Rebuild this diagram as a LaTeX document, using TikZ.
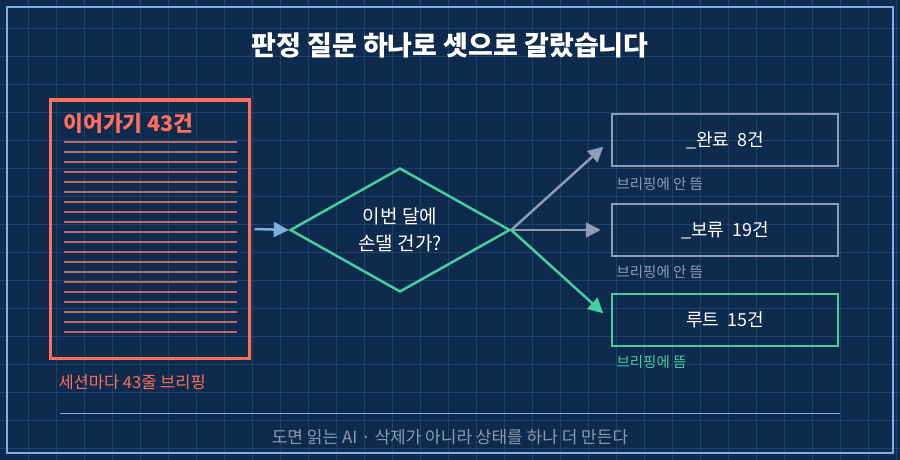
\documentclass[tikz,border=0pt]{standalone}
\usepackage{fontspec}
\setmainfont{Noto Sans CJK KR}
\usetikzlibrary{arrows.meta,positioning,shapes.geometric}
\definecolor{bgblue}{HTML}{0E2A4D}
\definecolor{gridblue}{HTML}{1F416B}
\definecolor{frameblue}{HTML}{7FAEE0}
\definecolor{coral}{HTML}{FF6F5C}
\definecolor{rowline}{HTML}{B86C6A}
\definecolor{mint}{HTML}{45CFA0}
\definecolor{slate}{HTML}{8E9DB5}
\definecolor{footgray}{HTML}{8C9AB0}

\begin{document}
\begin{tikzpicture}[x=1pt,y=-1pt,>={Triangle[length=15pt,width=15pt]},
  outcome/.style={draw,line width=2.5pt,minimum width=226pt,minimum height=52pt,inner sep=0pt,text=white,font=\fontsize{18}{20}\selectfont},
  note/.style={anchor=west,font=\fontsize{14.5}{16}\selectfont},
  branch/.style={->,line width=2.5pt}]
  \fill[bgblue] (0,0) rectangle (900,460);
  \useasboundingbox (0,0) rectangle (900,460);
  \foreach \g in {28,56,...,896} \draw[gridblue,line width=0.8pt] (\g,0) -- (\g,460);
  \foreach \g in {28,56,...,456} \draw[gridblue,line width=0.8pt] (0,\g) -- (900,\g);
  \draw[frameblue,line width=1.5pt] (7,7) rectangle (893,453);
  \node[text=white,font=\fontsize{27}{30}\selectfont\bfseries] (title) at (450,45) {판정 질문 하나로 셋으로 갈랐습니다};
  % the long list
  \node[draw=coral,line width=3pt,minimum width=199pt,minimum height=258pt,inner sep=0pt] (list) at (149.5,229) {};
  \node[anchor=west,text=coral,font=\fontsize{21.5}{24}\selectfont\bfseries] (listhead) at (60,123) {이어가기 43건};
  \foreach \r in {0,...,19} \draw[rowline,line width=2.5pt] (64,142+10*\r) -- (237,142+10*\r);
  \node[note,text=coral,font=\fontsize{16.5}{18}\selectfont] (listnote) at (55,382) {세션마다 43줄 브리핑};
  % the question
  \node[diamond,draw=mint,line width=2.5pt,minimum width=220pt,minimum height=124pt,inner sep=0pt,aspect=1.77,
    text=white,align=center,font=\fontsize{19}{27}\selectfont] (ask) at (400,230) {이번 달에\\손댈 건가?};
  \draw[->,frameblue,line width=2.5pt] (list.east) ++(4,0) coordinate (from) -- (ask.west);
  % outcomes
  \node[outcome,draw=slate] (done) at (725,140) {\_완료\ \ 8건};
  \node[outcome,draw=slate] (hold) at (725,230) {\_보류\ \ 19건};
  \node[outcome,draw=mint] (root) at (725,320) {루트\ \ 15건};
  \node[note,text=slate] (donenote) at (613,184) {브리핑에 안 뜸};
  \node[note,text=slate] (holdnote) at (613,272) {브리핑에 안 뜸};
  \node[note,text=mint] (rootnote) at (613,362) {브리핑에 뜸};
  \draw[branch,slate,shorten >=10pt] (ask.east) -- (done.west);
  \draw[branch,slate,shorten >=10pt] (ask.east) -- (hold.west);
  \draw[branch,mint,shorten >=10pt] (ask.east) -- (root.west);
  % footer
  \coordinate (ruleL) at (60,413);
  \coordinate (ruleR) at (840,413);
  \draw[frameblue,line width=0.8pt] (ruleL) -- (ruleR);
  \node[text=footgray,font=\fontsize{17}{19}\selectfont] (foot) at (450,437) {도면 읽는 AI · 삭제가 아니라 상태를 하나 더 만든다};
\end{tikzpicture}
\end{document}
